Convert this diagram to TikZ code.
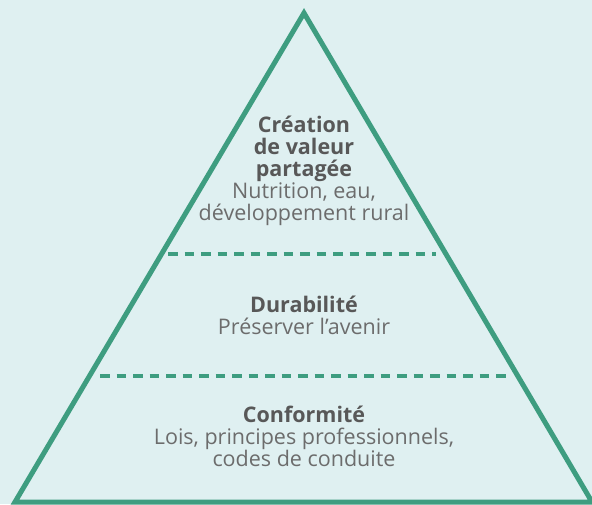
\documentclass[tikz,border=0pt]{standalone}
\usepackage{fontspec}
\setmainfont{Open Sans}
\usetikzlibrary{positioning}
\definecolor{fond}{RGB}{223,240,241}
\definecolor{vert}{RGB}{62,157,128}
\definecolor{gristitre}{RGB}{88,88,88}
\definecolor{gristexte}{RGB}{108,108,108}
\newcommand{\titre}[1]{\textcolor{gristitre}{\bfseries #1}}
\tikzset{
  niveau/.style={align=center, inner sep=0pt, text=gristexte,
    font=\fontsize{21.5}{22}\selectfont},
  palier/.style={vert, line width=4pt, dash pattern=on 9.5pt off 7pt},
}

\begin{document}
\begin{tikzpicture}[x=1pt,y=-1pt]
  \fill[fond] (0,0) rectangle (592,504);
  \useasboundingbox (0,0) rectangle (592,504);
  \coordinate (sommet) at (304,13);
  \coordinate (gauche) at (15,502);
  \coordinate (droite) at (592,502);
  \coordinate (h1) at (168,254);
  \coordinate (h2) at (436,254);
  \coordinate (b1) at (100,376);
  \coordinate (b2) at (507,376);
  \draw[vert, line width=5pt] (sommet) -- (gauche) -- (droite) -- cycle;
  \draw[palier] (h1) -- (h2);
  \draw[palier] (b1) -- (b2);
  \node[niveau] (valeur) at (304,171) {\titre{Création}\\\titre{de valeur}\\\titre{partagée}\\Nutrition, eau,\\développement rural};
  \node[niveau] (durabilite) at (304,315) {\titre{Durabilité}\\Préserver l’avenir};
  \node[niveau] (conformite) at (304,436) {\titre{Conformité}\\Lois, principes professionnels,\\codes de conduite};
\end{tikzpicture}
\end{document}
